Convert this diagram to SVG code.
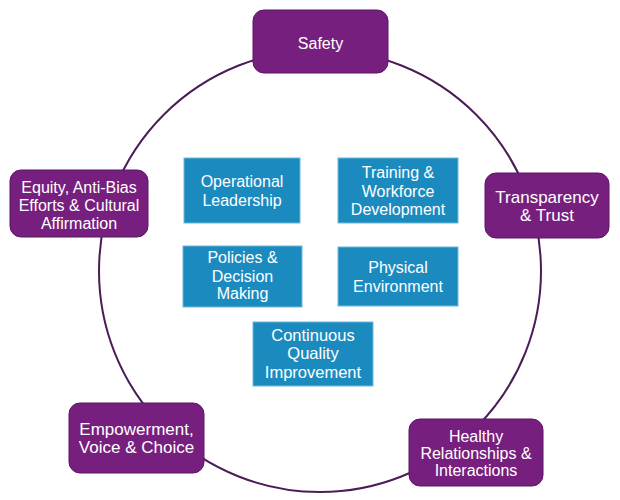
<svg xmlns="http://www.w3.org/2000/svg" width="620" height="500" viewBox="0 0 620 500">
<style>
.p{fill:#771f7e;stroke:#5b1462;stroke-width:1}
.b{fill:#1b8bbf;stroke:#6cb8dc;stroke-width:1}
text{font-family:"Liberation Sans",Arial,sans-serif;font-size:16px;fill:#ffffff;text-anchor:middle}
.l{font-size:17px}
.m{font-size:16.5px}
.c{fill:none;stroke:#4a1c58;stroke-width:2}
</style>
<rect width="620" height="500" fill="#ffffff"/>
<g id="connectors">
<circle class="c" cx="320" cy="271" r="221"/>
</g>
<g id="safety"><rect class="p" x="253" y="10" width="135" height="63" rx="11"/><text x="320.5" y="49">Safety</text></g>
<g id="equity"><rect class="p" x="10" y="170" width="138" height="67" rx="11"/><text x="79" y="193">Equity, Anti-Bias</text><text x="79" y="211">Efforts &amp; Cultural</text><text x="79" y="229">Affirmation</text></g>
<g id="transparency"><rect class="p" x="485" y="173" width="124" height="65" rx="11"/><text class="l" x="547" y="203">Transparency</text><text class="l" x="547" y="221">&amp; Trust</text></g>
<g id="empowerment"><rect class="p" x="69" y="403" width="135" height="70" rx="11"/><text class="l" x="136.5" y="435">Empowerment,</text><text class="l" x="136.5" y="453">Voice &amp; Choice</text></g>
<g id="healthy"><rect class="p" x="409" y="419" width="134" height="67" rx="11"/><text x="476" y="442">Healthy</text><text x="476" y="459">Relationships &amp;</text><text x="476" y="476">Interactions</text></g>
<g id="operational"><rect class="b" x="184" y="158" width="116" height="65"/><text x="242" y="187">Operational</text><text x="242" y="206">Leadership</text></g>
<g id="training"><rect class="b" x="338" y="158" width="120" height="65"/><text x="398" y="178">Training &amp;</text><text x="398" y="197">Workforce</text><text x="398" y="215">Development</text></g>
<g id="policies"><rect class="b" x="183" y="246" width="119" height="61"/><text x="242.5" y="263">Policies &amp;</text><text x="242.5" y="282">Decision</text><text x="242.5" y="299">Making</text></g>
<g id="physical"><rect class="b" x="338" y="247" width="120" height="59"/><text x="398" y="273">Physical</text><text x="398" y="292">Environment</text></g>
<g id="continuous"><rect class="b" x="253" y="322" width="120" height="64"/><text class="m" x="313" y="341">Continuous</text><text class="m" x="313" y="359">Quality</text><text class="m" x="313" y="378">Improvement</text></g>
</svg>
